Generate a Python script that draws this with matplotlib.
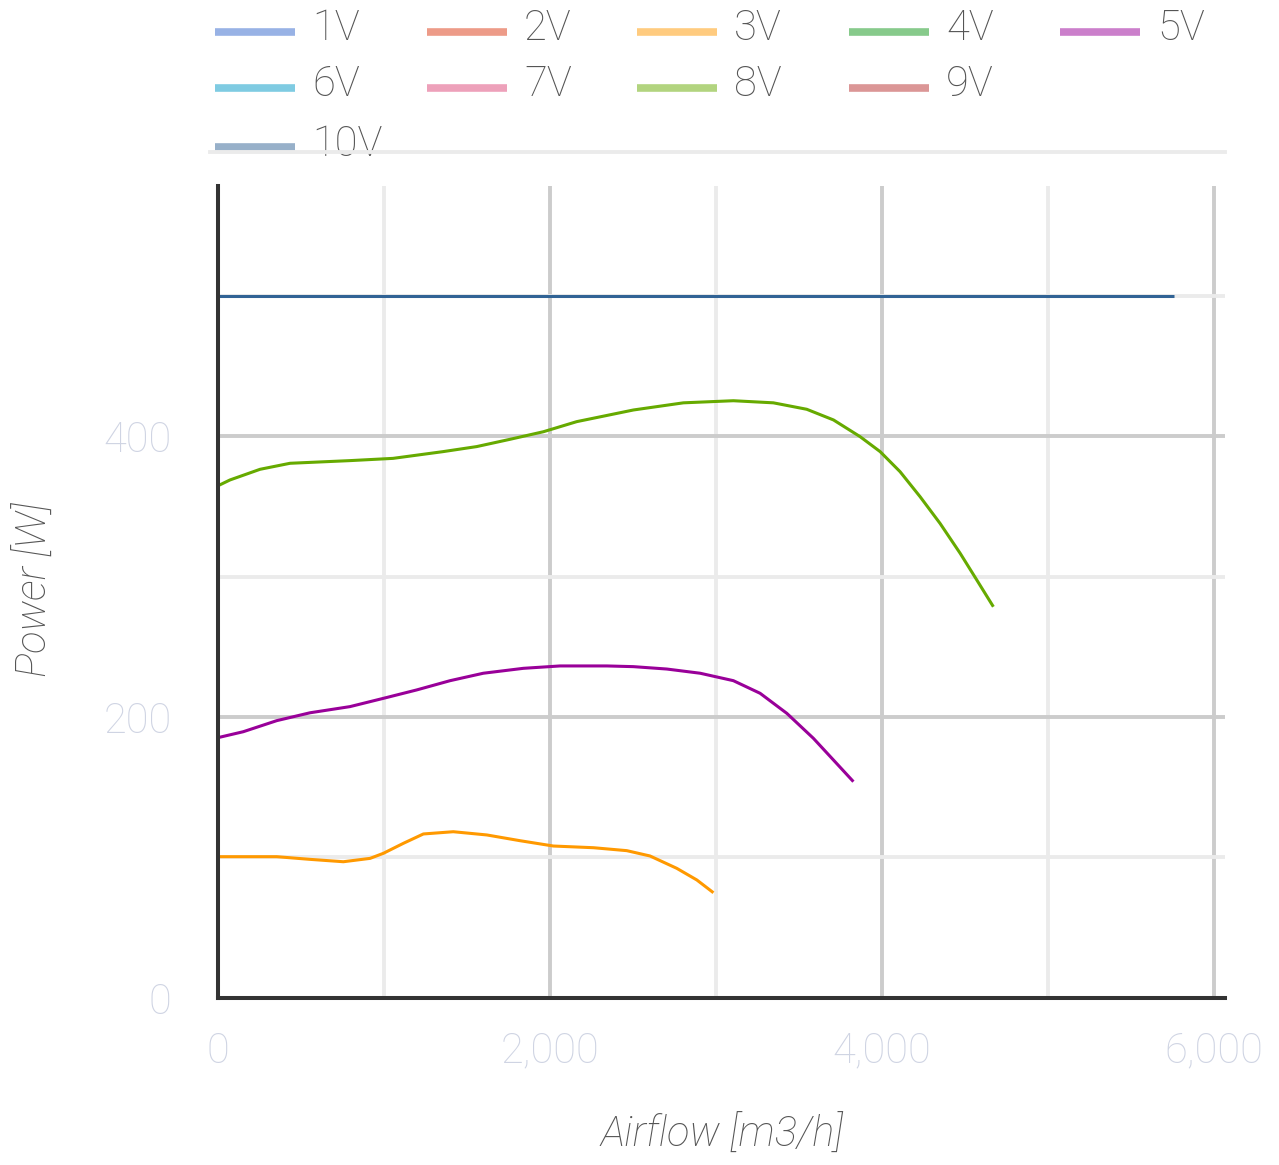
#!/usr/bin/env python3
"""
Fan curve chart: Power vs Airflow for several control voltages.
"""

import matplotlib
matplotlib.use("Agg")
import matplotlib.pyplot as plt
from matplotlib.lines import Line2D

plt.rcParams['font.family'] = ['Roboto', 'DejaVu Sans']

# Legend entries (Google-style palette, legend drawn at half opacity)
series_names = ['1V', '2V', '3V', '4V', '5V', '6V', '7V', '8V', '9V', '10V']
series_colors = ['#3366cc', '#dc3912', '#ff9900', '#109618', '#990099',
                 '#0099c6', '#dd4477', '#66aa00', '#b82e2e', '#316395']

# Curves (airflow m3/h, power W)
v3_air = [0, 357, 557, 758, 919, 999, 1119, 1240, 1420, 1622, 1822, 2023,
          2264, 2465, 2605, 2766, 2887, 2987]
v3_pow = [100.4, 100.4, 98.5, 96.8, 99.2, 102.8, 109.9, 116.6, 118.2, 115.9,
          111.8, 108.0, 106.8, 104.7, 100.9, 92.1, 83.8, 74.7]

v5_air = [0, 155, 357, 557, 798, 999, 1200, 1401, 1601, 1842, 2063, 2345,
          2505, 2706, 2907, 3107, 3268, 3429, 3589, 3710, 3830]
v5_pow = [185.2, 189.5, 197.4, 203.0, 207.4, 213.3, 219.3, 225.9, 231.2,
          234.7, 236.4, 236.4, 235.9, 234.2, 231.2, 225.9, 216.9, 202.6,
          184.8, 169.3, 153.9]

v8_air = [0, 75, 256, 437, 798, 1057, 1358, 1561, 1762, 1963, 2164, 2345,
          2505, 2806, 3107, 3348, 3549, 3710, 3870, 3991, 4111, 4232, 4352,
          4473, 4573, 4673]
v8_pow = [364.7, 369.0, 376.6, 380.9, 382.8, 384.4, 389.2, 392.8, 398.0,
          403.4, 410.6, 415.0, 418.9, 424.0, 425.5, 424.0, 419.4, 411.8,
          399.9, 389.2, 374.9, 357.0, 338.0, 316.7, 297.7, 278.6]

v10_air = [0, 5760]
v10_pow = [500, 500]

x_major = [0, 2000, 4000, 6000]
x_labels = ['0', '2,000', '4,000', '6,000']
x_minor = [1000, 3000, 5000]
y_major = [0, 200, 400]
y_labels = ['0', '200', '400']
y_minor = [100, 300, 500]

# legend wraps 5 / 4 / 1
legend_row = [0, 0, 0, 0, 0, 1, 1, 1, 1, 2]
legend_col = [0, 1, 2, 3, 4, 0, 1, 2, 3, 0]

W, H = 1279, 1165
fig = plt.figure(figsize=(W / 100, H / 100), dpi=100)
ax = fig.add_axes([217.5 / W, 1 - 997.5 / H, (1225 - 217.5) / W, (997.5 - 186) / H])

curves = [(v3_air, v3_pow, series_colors[2]),
          (v5_air, v5_pow, series_colors[4]),
          (v8_air, v8_pow, series_colors[7]),
          (v10_air, v10_pow, series_colors[9])]
for xs, ys, c in curves:
    ax.plot(xs, ys, color=c, linewidth=2.2, solid_capstyle='butt',
            solid_joinstyle='round', zorder=3)

ax.set_xlim(0, 6068)
ax.set_ylim(0, 578.6)
ax.set_xticks(x_major)
ax.set_xticklabels(x_labels)
ax.set_xticks(x_minor, minor=True)
ax.set_yticks(y_major)
ax.set_yticklabels(y_labels)
ax.set_yticks(y_minor, minor=True)
ax.tick_params(which='both', length=0)
ax.tick_params(axis='x', pad=24, labelsize=30, labelcolor='#cfd4e3')
ax.tick_params(axis='y', pad=33, labelsize=30, labelcolor='#cfd4e3')
for lab in ax.get_xticklabels() + ax.get_yticklabels():
    lab.set_fontweight('light')

ax.grid(which='major', color='#cccccc', linewidth=2.8)
ax.grid(which='minor', color='#ebebeb', linewidth=2.8)
ax.set_axisbelow(True)
for s in ['top', 'right']:
    ax.spines[s].set_visible(False)
for s in ['left', 'bottom']:
    ax.spines[s].set_color('#333333')
    ax.spines[s].set_linewidth(2.9)
    ax.spines[s].set_zorder(4)

fig.text(35 / W, 1 - 590 / H, 'Power [W]', rotation=90, ha='center', va='center',
         fontsize=30, style='italic', fontweight='light', color='#555555')
fig.text(722 / W, 1 - 1135 / H, 'Airflow [m3/h]', ha='center', va='center',
         fontsize=30, style='italic', fontweight='light', color='#555555')

# Legend
col_x = [215, 427, 637, 849, 1060]
row_y = [32, 88, 147]
for name, c, r, k in zip(series_names, series_colors, legend_row, legend_col):
    x0, y0 = col_x[k], row_y[r]
    fig.add_artist(Line2D([x0 / W, (x0 + 80) / W], [1 - y0 / H, 1 - y0 / H],
                          color=c, alpha=0.5, linewidth=5.5,
                          solid_capstyle='butt'))
    fig.text((x0 + 97) / W, 1 - (y0 - 3) / H, name, ha='left', va='center',
             fontsize=30, fontweight='light', color='#555555')

# separator line under the legend, drawn across the last row
fig.add_artist(Line2D([210 / W, 1225 / W], [1 - 152 / H, 1 - 152 / H],
                      color='#ebebeb', linewidth=2.8, zorder=10))

fig.savefig('out.png', dpi=100)
plt.close(fig)
